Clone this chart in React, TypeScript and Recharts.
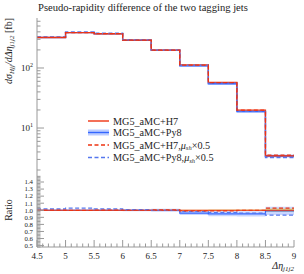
import React from 'react';
import { ComposedChart, Line, Area, XAxis, YAxis, Legend } from 'recharts';

// ---- data ----
const binEdges = [4.5, 5, 5.5, 6, 6.5, 7, 7.5, 8, 8.5, 9];
const h7 = [322, 388, 372, 290, 198, 113, 57.5, 19.8, 3.45];
const py8 = [322, 388, 372, 290, 198, 108.5, 54.6, 18.8, 3.42];
const h7Half = [323, 387, 373, 290, 199, 112, 57, 19.8, 3.55];
const py8Half = [328, 400, 379, 293, 198, 111, 55.8, 19.0, 3.21];
const py8RelErr = [0.01, 0.01, 0.012, 0.015, 0.02, 0.03, 0.035, 0.04, 0.06];
const h7RelErr = [0.004, 0.004, 0.004, 0.005, 0.006, 0.008, 0.01, 0.012, 0.025];

const seriesNames = [
  'MG5_aMC+H7',
  'MG5_aMC+Py8',
  'MG5_aMC+H7,μ_sh×0.5',
  'MG5_aMC+Py8,μ_sh×0.5',
];
const titleText = 'Pseudo-rapidity difference of the two tagging jets';
const xMajorTicks = [4.5, 5, 5.5, 6, 6.5, 7, 7.5, 8, 8.5, 9];
const mainMajorTicks = [10, 100];
const ratioMajorTicks = [0.5, 0.6, 0.7, 0.8, 0.9, 1.0, 1.1, 1.2, 1.3, 1.4];

// ---- style ----
const RED = '#EE3311';
const BLUE = '#3366FF';
const BLUE_D = '#5577EE';
const BAND = '#BBCCFF';
const FRAME = '#999999';
const FONT = '"Liberation Serif", serif';
const L = 37;
const R = 294;
const MAIN_BOTTOM = 170;
const RATIO_BOTTOM = 247 - 170;

// step data: each bin start plus closing edge
const n = h7.length;
const idx = (i: number) => Math.min(i, n - 1);
const mainData = binEdges.map((x, i) => {
  const k = idx(i);
  return {
    x,
    h7: h7[k],
    py8: py8[k],
    h7Half: h7Half[k],
    py8Half: py8Half[k],
    py8Band: [py8[k] * (1 - py8RelErr[k]), py8[k] * (1 + py8RelErr[k])],
  };
});
const ratioData = binEdges.map((x, i) => {
  const k = idx(i);
  return {
    x,
    h7: 1,
    py8: py8[k] / h7[k],
    h7Half: h7Half[k] / h7[k],
    py8Half: py8Half[k] / h7[k],
    py8Band: [(py8[k] / h7[k]) * (1 - py8RelErr[k]), (py8[k] / h7[k]) * (1 + py8RelErr[k])],
    h7Band: [1 - h7RelErr[k], 1 + h7RelErr[k]],
  };
});

const xAllTicks: number[] = [];
for (let i = 0; i <= 45; i++) xAllTicks.push(Math.round((4.5 + i * 0.1) * 10) / 10);
const mainYTicks: number[] = [];
[1, 10, 100].forEach((d) => {
  for (let m = 1; m <= 9; m++) {
    const v = m * d;
    if (v >= 2 && v <= 680) mainYTicks.push(v);
  }
});
const ratioYTicks: number[] = [];
for (let i = 0; i <= 50; i++) {
  const v = Math.round((0.48 + i * 0.02) * 100) / 100;
  if (v >= 0.48 && v <= 1.56) ratioYTicks.push(v);
}

const isMajorX = (v: number) => xMajorTicks.some((t) => Math.abs(t - v) < 1e-6);

const makeXTick = (bottom: number, labels: boolean) => (props: any) => {
  const { x, payload } = props;
  const major = isMajorX(payload.value);
  return (
    <g>
      <line x1={x} x2={x} y1={bottom} y2={bottom - (major ? 7 : 3.5)} stroke={FRAME} strokeWidth={1} />
      {labels && major && (
        <text x={x} y={bottom + 12} textAnchor="middle" fontSize={9} fontFamily={FONT} fill="#222">
          {String(payload.value)}
        </text>
      )}
    </g>
  );
};

const MainYTick = (props: any) => {
  const { y, payload } = props;
  const v = payload.value;
  const major = mainMajorTicks.includes(v);
  return (
    <g>
      <line x1={L} x2={L + (major ? 7 : 3.5)} y1={y} y2={y} stroke={FRAME} strokeWidth={1} />
      {major && (
        <text x={L - 4} y={y + 3} textAnchor="end" fontSize={9} fontFamily={FONT} fill="#222">
          10
          <tspan dy={-4} fontSize={6}>{String(Math.round(Math.log10(v)))}</tspan>
        </text>
      )}
    </g>
  );
};

const RatioYTick = (props: any) => {
  const { y, payload } = props;
  const v = payload.value;
  const major = ratioMajorTicks.some((t) => Math.abs(t - v) < 1e-6);
  return (
    <g>
      <line x1={L} x2={L + (major ? 7 : 3.5)} y1={y} y2={y} stroke={FRAME} strokeWidth={1} />
      {major && (
        <text x={L - 4} y={y + 2.3} textAnchor="end" fontSize={6.8} fontFamily={FONT} fill="#222">
          {v.toFixed(1)}
        </text>
      )}
    </g>
  );
};

const LegendRow = ({ i, y }: { i: number; y: number }) => {
  const colors = [RED, BLUE, RED, BLUE_D];
  const dashed = i >= 2;
  const name = seriesNames[i];
  const [pre, post] = name.includes('μ_sh') ? name.split('μ_sh') : [name, null];
  return (
    <g>
      {i === 1 && <rect x={2} y={y - 3} width={21} height={6} fill={BAND} />}
      <line x1={2} x2={23} y1={y} y2={y} stroke={colors[i]} strokeWidth={1.4} strokeDasharray={dashed ? '4 2.5' : undefined} />
      <text x={27} y={y + 3.5} fontSize={10.2} fontFamily={FONT} fill="#222">
        {pre}
        {post !== null && (
          <>
            <tspan fontStyle="italic">μ</tspan>
            <tspan fontSize={6.5} dy={1.5} fontStyle="italic">sh</tspan>
            <tspan dy={-1.5}>{post}</tspan>
          </>
        )}
      </text>
    </g>
  );
};

const LegendBox = () => (
  <svg width={210} height={48} style={{ display: 'block' }}>
    <LegendRow i={0} y={5} />
    <LegendRow i={1} y={16.5} />
    <LegendRow i={2} y={29} />
    <LegendRow i={3} y={41.5} />
  </svg>
);

const MainYLabel = () => (
  <text transform={`translate(12, 18) rotate(-90)`} textAnchor="end" fontSize={10} fontFamily={FONT} fill="#222">
    <tspan fontStyle="italic">dσ</tspan>
    <tspan fontSize={7} dy={2} fontStyle="italic">Hjj</tspan>
    <tspan dy={-2} fontStyle="italic">/dΔη</tspan>
    <tspan fontSize={7} dy={2} fontStyle="italic">j1j2</tspan>
    <tspan dy={-2}> [fb]</tspan>
  </text>
);

const RatioYLabel = () => (
  <text transform={`translate(12, 40) rotate(-90)`} textAnchor="middle" fontSize={10} fontFamily={FONT} fill="#222">
    Ratio
  </text>
);

const XLabel = () => (
  <text x={R} y={RATIO_BOTTOM + 22} textAnchor="end" fontSize={10} fontFamily={FONT} fill="#222">
    <tspan fontStyle="italic">Δη</tspan>
    <tspan fontSize={7} dy={2} fontStyle="italic">j1j2</tspan>
  </text>
);

export default function App() {
  return (
    <div style={{ position: 'absolute', left: 0, top: 0, width: 304, height: 274, background: '#fff' }}>
      <div
        style={{
          position: 'absolute',
          left: 38,
          top: 2,
          fontFamily: FONT,
          fontSize: 10.6,
          color: '#222',
          whiteSpace: 'nowrap',
          lineHeight: '12px',
        }}
      >
        {titleText}
      </div>
      <div style={{ position: 'absolute', left: 0, top: 0 }}>
        <ComposedChart width={304} height={171} data={mainData} margin={{ top: 18, right: 10, left: 0, bottom: 1 }}>
          <XAxis
            type="number"
            dataKey="x"
            domain={[4.5, 9]}
            ticks={xAllTicks}
            interval={0}
            tick={makeXTick(MAIN_BOTTOM, false)}
            tickLine={false}
            axisLine={{ stroke: FRAME }}
            height={0}
            allowDataOverflow
          />
          <XAxis xAxisId="top" orientation="top" type="number" domain={[0, 1]} tick={false} tickLine={false} axisLine={{ stroke: FRAME }} height={0} />
          <YAxis
            type="number"
            scale="log"
            domain={[2, 680]}
            ticks={mainYTicks}
            interval={0}
            tick={<MainYTick />}
            tickLine={false}
            axisLine={{ stroke: FRAME }}
            width={37}
            allowDataOverflow
            label={{ content: () => <MainYLabel /> }}
          />
          <YAxis yAxisId="right" orientation="right" type="number" domain={[0, 1]} tick={false} tickLine={false} axisLine={{ stroke: FRAME }} width={0} />
          <Area type="stepAfter" dataKey="py8Band" stroke="none" fill={BAND} fillOpacity={1} isAnimationActive={false} />
          <Line type="stepAfter" dataKey="py8" stroke={BLUE} strokeWidth={1.4} dot={false} isAnimationActive={false} />
          <Line type="stepAfter" dataKey="h7" stroke={RED} strokeWidth={1.3} dot={false} isAnimationActive={false} />
          <Line type="stepAfter" dataKey="py8Half" stroke={BLUE_D} strokeWidth={1.3} strokeDasharray="4 2.5" dot={false} isAnimationActive={false} />
          <Line type="stepAfter" dataKey="h7Half" stroke={RED} strokeWidth={1.3} strokeDasharray="4 2.5" dot={false} isAnimationActive={false} />
          <Legend
            layout="vertical"
            align="center"
            verticalAlign="middle"
            content={() => <LegendBox />}
            wrapperStyle={{ position: 'absolute', left: 86, top: 116, width: 210, height: 48 }}
          />
        </ComposedChart>
      </div>
      <div style={{ position: 'absolute', left: 0, top: 170 }}>
        <ComposedChart width={304} height={104} data={ratioData} margin={{ top: 0, right: 10, left: 0, bottom: 0 }}>
          <XAxis
            type="number"
            dataKey="x"
            domain={[4.5, 9]}
            ticks={xAllTicks}
            interval={0}
            tick={makeXTick(RATIO_BOTTOM, true)}
            tickLine={false}
            axisLine={{ stroke: FRAME }}
            height={27}
            allowDataOverflow
            label={{ content: () => <XLabel /> }}
          />
          <YAxis
            type="number"
            domain={[0.48, 1.57]}
            ticks={ratioYTicks}
            interval={0}
            tick={<RatioYTick />}
            tickLine={false}
            axisLine={{ stroke: FRAME }}
            width={37}
            allowDataOverflow
            label={{ content: () => <RatioYLabel /> }}
          />
          <YAxis yAxisId="right" orientation="right" type="number" domain={[0, 1]} tick={false} tickLine={false} axisLine={{ stroke: FRAME }} width={0} />
          <Area type="stepAfter" dataKey="py8Band" stroke="none" fill={BAND} fillOpacity={0.8} isAnimationActive={false} />
          <Area type="stepAfter" dataKey="h7Band" stroke="none" fill="#D8D060" fillOpacity={0.7} isAnimationActive={false} />
          <Line type="stepAfter" dataKey="py8" stroke={BLUE} strokeWidth={1.2} dot={false} isAnimationActive={false} />
          <Line type="stepAfter" dataKey="h7" stroke={RED} strokeWidth={1.2} dot={false} isAnimationActive={false} />
          <Line type="stepAfter" dataKey="py8Half" stroke={BLUE_D} strokeWidth={1.2} strokeDasharray="4 2.5" dot={false} isAnimationActive={false} />
          <Line type="stepAfter" dataKey="h7Half" stroke={RED} strokeWidth={1.2} strokeDasharray="4 2.5" dot={false} isAnimationActive={false} />
        </ComposedChart>
      </div>
    </div>
  );
}
